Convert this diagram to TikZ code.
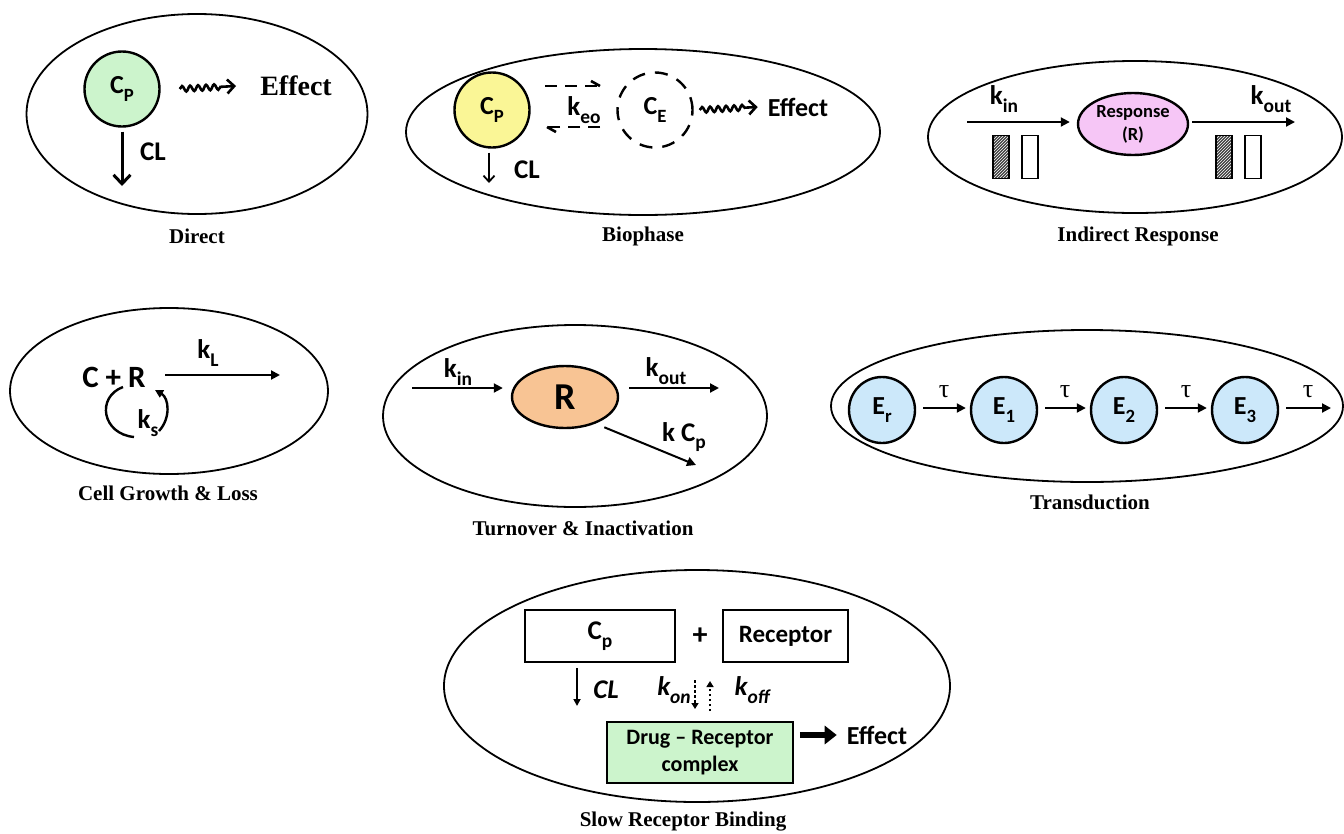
\documentclass[tikz,border=0pt]{standalone}
\usepackage{fontspec}
\usepackage{graphicx}
\setmainfont{Liberation Serif}
\newfontfamily\calib{Carlito}
\usetikzlibrary{arrows.meta,shapes.geometric,decorations.pathmorphing,patterns}
\definecolor{cpgreen}{RGB}{204,244,204}
\definecolor{cpyellow}{RGB}{250,246,150}
\definecolor{rpink}{RGB}{246,198,246}
\definecolor{rorange}{RGB}{248,196,148}
\definecolor{eblue}{RGB}{204,232,250}
\newcommand\sbs[1]{\raisebox{-0.28em}{\scalebox{0.72}{#1}}}
\begin{document}
\begin{tikzpicture}[x=1pt,y=-1pt,
  every node/.style={inner sep=0pt},
  outer/.style={draw, ellipse, line width=1.8pt, inner sep=0pt},
  lbl/.style={font=\bfseries\fontsize{21}{24}\selectfont},
  ctxt/.style={font=\calib\bfseries\fontsize{27}{30}\selectfont},
  ctxtit/.style={font=\calib\bfseries\itshape\fontsize{27}{30}\selectfont},
  comp/.style={draw, circle, line width=2.4pt, minimum size=75pt, inner sep=0pt, font=\calib\bfseries\fontsize{26}{28}\selectfont},
  arr/.style={-{Triangle[length=9pt,width=9pt]}, line width=2pt},
  thinarr/.style={-{Straight Barb[length=6pt,width=11pt]}, line width=1.8pt},
  squig/.style={decorate, decoration={snake, amplitude=2.8pt, segment length=8pt, post length=12pt}, -{Straight Barb[length=7pt,width=14pt]}, line width=2.6pt},
  dashln/.style={line width=2.4pt, dash pattern=on 12pt off 8pt},
  hatch/.style={draw, line width=1.6pt, minimum width=16pt, minimum height=43pt, preaction={fill=black!75}, pattern=north east lines, pattern color=white},
  wbox/.style={draw, line width=1.6pt, minimum width=16pt, minimum height=43pt, fill=white},
  rect/.style={draw, line width=1.6pt, inner sep=0pt}
]
\useasboundingbox (0,0) rectangle (1344,833);

% ---------------- Direct
\node[outer, minimum width=341pt, minimum height=200pt] (dOut) at (197,114) {};
\node[comp, fill=cpgreen] (dCp) at (122,89) {C\sbs{P}};
\node[font=\bfseries\fontsize{28}{32}\selectfont] (dEff) at (296,86) {Effect};
\draw[squig] ([xshift=19pt]dCp.east) -- ([xshift=-24pt]dEff.west);
\coordinate (dEnd) at (122,186);
\draw[-{Straight Barb[length=9pt,width=17pt]}, line width=3pt] ([yshift=-4pt]dCp.south) -- (dEnd);
\node[ctxt] (dCL) at (153,152) {CL};
\node[lbl] (dLab) at (197,236) {Direct};

% ---------------- Biophase
\node[outer, minimum width=474pt, minimum height=166pt] (bOut) at (643,132) {};
\node[comp, fill=cpyellow] (bCp) at (492,110) {C\sbs{P}};
\node[comp, dash pattern=on 13pt off 10pt] (bCe) at (655,110) {C\sbs{E}};
\coordinate (bu1) at (545,86);
\coordinate (bu2) at (600,86);
\coordinate (bl1) at (600,127);
\coordinate (bl2) at (547,127);
\draw[dashln] (bu1) -- (bu2);
\draw[line width=2.6pt] (bu2) -- ++(-9,-5);
\draw[dashln] (bl1) -- (bl2);
\draw[line width=2.6pt] (bl2) -- ++(9,5);
\node[ctxt] (bK) at (584,110) {k\sbs{eo}};
\node[font=\calib\bfseries\fontsize{26}{30}\selectfont] (bEff) at (798,107) {Effect};
\draw[squig] ([xshift=6pt]bCe.east) -- ([xshift=-10pt]bEff.west);
\coordinate (bEnd) at (489,183);
\draw[thinarr] ([xshift=-3pt,yshift=-4pt]bCp.south) -- (bEnd);
\node[ctxt] (bCL) at (527,170) {CL};
\node[lbl] (bLab) at (643,236) {Biophase};

% ---------------- Indirect response
\node[outer, minimum width=414pt, minimum height=152pt] (iOut) at (1135,137) {};
\node[draw, ellipse, line width=2.4pt, fill=rpink, minimum width=110pt, minimum height=62pt, align=center, font=\calib\bfseries\fontsize{18.5}{23}\selectfont] (iR) at (1133,124) {Response\\(R)};
\coordinate (iIn) at (967,122);
\coordinate (iOutEnd) at (1295,122);
\draw[arr, shorten >=7pt] (iIn) -- (iIn -| iR.west);
\draw[arr, shorten <=3pt] (iOutEnd -| iR.east) -- (iOutEnd);
\node[ctxt] (iKin) at (1004,99) {k\sbs{in}};
\node[ctxt] (iKout) at (1271,99) {k\sbs{out}};
\node[hatch] (ih1) at (1001,157) {};
\node[wbox] (iw1) at (1030,157) {};
\node[hatch] (ih2) at (1224,157) {};
\node[wbox] (iw2) at (1253,157) {};
\node[lbl] (iLab) at (1138,236) {Indirect Response};

% ---------------- Cell growth & loss
\node[outer, minimum width=318pt, minimum height=166pt] (cOut) at (169,391) {};
\node[font=\calib\bfseries\fontsize{31}{34}\selectfont] (cCR) at (114,377) {C + R};
\coordinate (cStart) at (165,375);
\coordinate (cEnd) at (280,375);
\draw[arr] (cStart) -- (cEnd);
\node[ctxt] (cKL) at (208,353) {k\sbs{L}};
\coordinate (ca1) at (123,387);
\coordinate (ca2) at (134,437);
\draw[line width=2.4pt] (ca1) .. controls (96,397) and (102,434) .. (ca2);
\coordinate (cb1) at (159,431);
\coordinate (cb2) at (155,390);
\draw[-{Triangle[length=8pt,width=8pt]}, line width=2.4pt] (cb1) .. controls (171,418) and (169,398) .. (cb2);
\node[ctxt] (cKs) at (148,423) {k\sbs{s}};
\node[lbl] (cLab) at (168,493) {Cell Growth \& Loss};

% ---------------- Turnover & inactivation
\node[outer, minimum width=384pt, minimum height=182pt] (tOut) at (575,416) {};
\node[draw, ellipse, line width=2.4pt, fill=rorange, minimum width=106pt, minimum height=62pt, font=\calib\bfseries\fontsize{38}{40}\selectfont] (tR) at (565,397) {R};
\coordinate (tIn) at (412,388);
\coordinate (tOutEnd) at (719,388);
\draw[arr, shorten >=8pt] (tIn) -- (tIn -| tR.west);
\draw[arr, shorten <=10pt] (tOutEnd -| tR.east) -- (tOutEnd);
\node[ctxt] (tKin) at (458,372) {k\sbs{in}};
\node[ctxt] (tKout) at (666,371) {k\sbs{out}};
\coordinate (tkEnd) at (696,465);
\draw[arr] (tR.-40) ++(8,4) -- (tkEnd);
\node[ctxt] (tKcp) at (684,437) {k C\sbs{p}};
\node[lbl] (tLab) at (583,528) {Turnover \& Inactivation};

% ---------------- Transduction
\node[outer, minimum width=512pt, minimum height=152pt] (xOut) at (1087,406) {};
\node[comp, fill=eblue, minimum size=66pt] (eR) at (882,410) {E\sbs{r}};
\node[comp, fill=eblue, minimum size=66pt] (e1) at (1004,410) {E\sbs{1}};
\node[comp, fill=eblue, minimum size=66pt] (e2) at (1124,410) {E\sbs{2}};
\node[comp, fill=eblue, minimum size=66pt] (e3) at (1245,410) {E\sbs{3}};
\coordinate (xEnd) at (1331,408);
\foreach \a/\b in {eR/e1, e1/e2, e2/e3} {
  \draw[arr, shorten <=7pt, shorten >=4pt] (\a.east |- xEnd) -- (\b.west |- xEnd);
}
\draw[arr, shorten <=7pt] (e3.east |- xEnd) -- (xEnd);
\foreach \x/\n in {944/t1, 1065/t2, 1186/t3, 1308/t4} {
  \node[font=\fontsize{26}{28}\selectfont] (\n) at (\x,392) {τ};
}
\node[lbl] (xLab) at (1090,502) {Transduction};

% ---------------- Slow receptor binding
\node[outer, minimum width=506pt, minimum height=232pt] (sOut) at (697,686) {};
\node[rect, minimum width=150pt, minimum height=52pt, font=\calib\bfseries\fontsize{27}{30}\selectfont] (sCp) at (600,636) {C\sbs{p}};
\node[font=\calib\bfseries\fontsize{30}{30}\selectfont] (sPlus) at (700,636) {+};
\node[rect, minimum width=125pt, minimum height=52pt, font=\calib\bfseries\fontsize{25}{30}\selectfont] (sRec) at (785.5,636) {Receptor};
\node[rect, fill=cpgreen, minimum width=186pt, minimum height=61pt, align=center, font=\calib\bfseries\fontsize{22}{27}\selectfont] (sCx) at (700,752.5) {Drug – Receptor\\complex};
\coordinate (sCLs) at (577,668);
\coordinate (sCLe) at (577,706);
\draw[-{Triangle[length=7pt,width=7pt]}, line width=1.8pt] (sCLs) -- (sCLe);
\node[ctxtit] (sCL) at (606,690) {CL};
\node[ctxtit] (sKon) at (674,690) {k\sbs{on}};
\node[ctxtit] (sKoff) at (752,690) {k\sbs{off}};
\coordinate (sd1) at (695,680);
\coordinate (sd2) at (695,709);
\coordinate (su1) at (710,711);
\coordinate (su2) at (710,681);
\draw[-{Triangle[length=6pt,width=7pt]}, line width=2pt, dash pattern=on 2.5pt off 2.5pt] (sd1) -- (sd2);
\draw[-{Triangle[length=6pt,width=7pt]}, line width=2pt, dash pattern=on 2.5pt off 2.5pt] (su1) -- (su2);
\node[font=\calib\bfseries\fontsize{26}{30}\selectfont] (sEff) at (877,735) {Effect};
\draw[-{Triangle[length=12pt,width=18pt]}, line width=6pt] ([xshift=6pt]sCx.east |- sEff) -- ([xshift=-10pt]sEff.west);
\node[lbl] (sLab) at (683,822) {Slow Receptor Binding};
\end{tikzpicture}
\end{document}
